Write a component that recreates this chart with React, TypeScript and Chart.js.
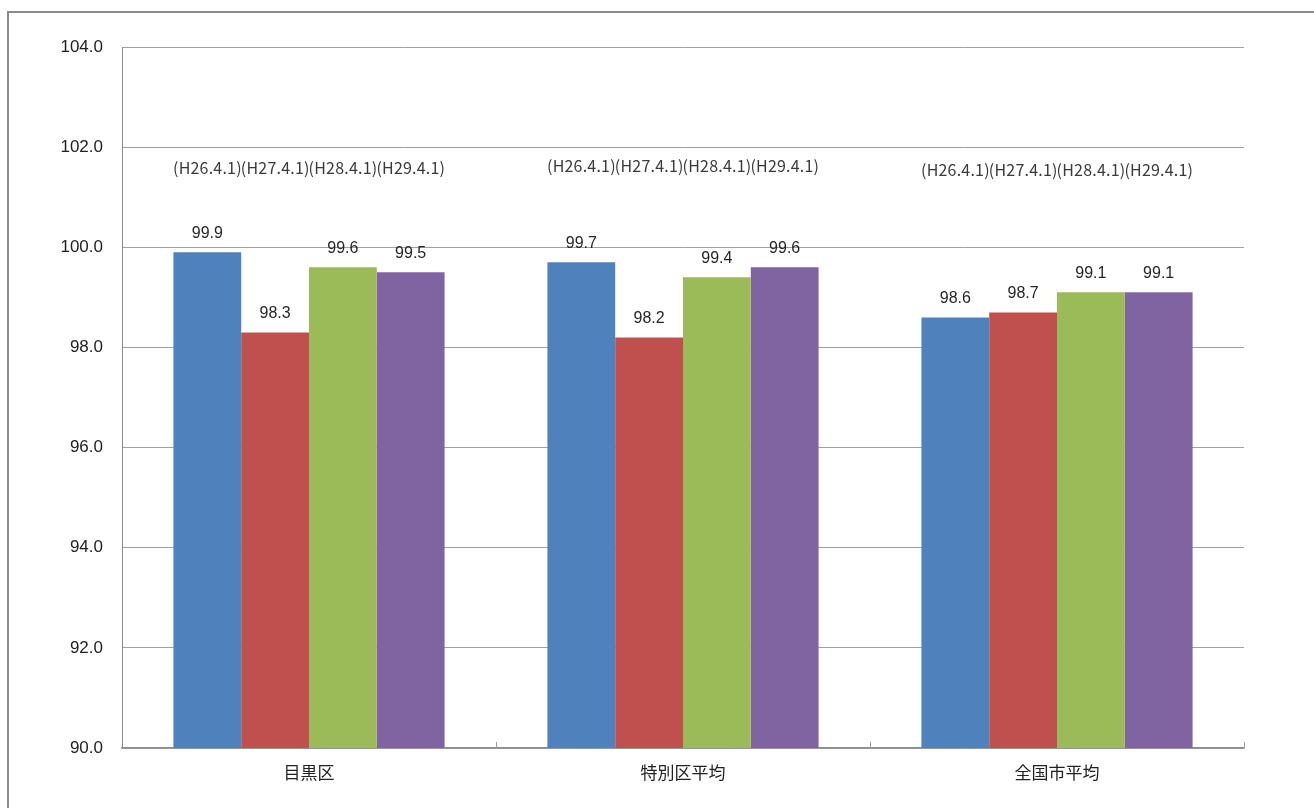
import React, { useEffect, useRef } from "react";
import { Chart, registerables } from "chart.js";

Chart.register(...registerables);

const categories = ["目黒区", "特別区平均", "全国市平均"];
const seriesNames = ["H26.4.1", "H27.4.1", "H28.4.1", "H29.4.1"];
const dateLabels = ["(H26.4.1)", "(H27.4.1)", "(H28.4.1)", "(H29.4.1)"];
const h26 = [99.9, 99.7, 98.6];
const h27 = [98.3, 98.2, 98.7];
const h28 = [99.6, 99.4, 99.1];
const h29 = [99.5, 99.6, 99.1];
const dateLabelLevels = [101.58, 101.62, 101.54];
const colors = ["#4F81BD", "#C0504D", "#9BBB59", "#8064A2"];
const yMin = 90;
const yMax = 104;
const yStep = 2;

const overlayPlugin = {
  id: "overlay",
  afterDraw(chart: any) {
    const ctx = chart.ctx;
    const area = chart.chartArea;
    const yScale = chart.scales.y;
    ctx.save();
    // outer frame
    ctx.strokeStyle = "#8c8c8c";
    ctx.lineWidth = 2;
    ctx.beginPath();
    ctx.moveTo(8, chart.height);
    ctx.lineTo(8, 12);
    ctx.lineTo(chart.width, 12);
    ctx.stroke();
    // category boundary ticks (inward)
    ctx.strokeStyle = "#9a9a9a";
    ctx.lineWidth = 1;
    const n = categories.length;
    const w = (area.right - area.left) / n;
    for (let i = 1; i <= n; i++) {
      const x = Math.round(area.left + w * i) + 0.5;
      ctx.beginPath();
      ctx.moveTo(x, area.bottom);
      ctx.lineTo(x, area.bottom - 6);
      ctx.stroke();
    }
    // value labels
    ctx.fillStyle = "#262626";
    ctx.font = "16px 'Liberation Sans'";
    ctx.textAlign = "center";
    ctx.textBaseline = "middle";
    chart.data.datasets.forEach((ds: any, di: number) => {
      const meta = chart.getDatasetMeta(di);
      meta.data.forEach((bar: any, i: number) => {
        ctx.fillText(ds.data[i].toFixed(1), bar.x, bar.y - 19);
      });
    });
    // date labels above groups
    ctx.fillStyle = "#3a3a3a";
    ctx.font = "16px 'Noto Sans CJK JP'";
    chart.data.datasets.forEach((ds: any, di: number) => {
      const meta = chart.getDatasetMeta(di);
      meta.data.forEach((bar: any, i: number) => {
        const y = yScale.getPixelForValue(dateLabelLevels[i]);
        const text = dateLabels[di];
        ctx.letterSpacing = "0px";
        const measured = ctx.measureText(text).width;
        const target = bar.width + 1;
        const sp = Math.max(0, (target - measured) / text.length);
        ctx.letterSpacing = sp.toFixed(2) + "px";
        ctx.fillText(text, bar.x + sp / 2, y, target + sp);
      });
    });
    ctx.letterSpacing = "0px";
    ctx.restore();
  },
};

export default function App() {
  const ref = useRef<HTMLCanvasElement>(null);
  useEffect(() => {
    if (!ref.current) return;
    const data = [h26, h27, h28, h29];
    const chart = new Chart(ref.current, {
      type: "bar",
      data: {
        labels: categories,
        datasets: data.map((d, i) => ({
          label: seriesNames[i],
          data: d,
          backgroundColor: colors[i],
          borderWidth: 0,
          categoryPercentage: 0.725,
          barPercentage: 1,
        })),
      },
      options: {
        responsive: false,
        animation: false,
        devicePixelRatio: 1,
        layout: { padding: { top: 47, right: 70, left: 0, bottom: 0 } },
        plugins: {
          legend: { display: false },
          tooltip: { enabled: false },
        },
        scales: {
          x: {
            grid: { display: false, drawTicks: false },
            border: { display: true, color: "#8c8c8c", width: 1.5 },
            ticks: {
              color: "#222222",
              font: { family: "'Noto Sans CJK JP'", size: 17 },
              padding: 14,
            },
            afterFit: (s: any) => {
              s.height = 60;
            },
          },
          y: {
            min: yMin,
            max: yMax,
            ticks: {
              stepSize: yStep,
              color: "#222222",
              font: { family: "'Liberation Sans'", size: 17 },
              padding: 19,
              callback: (v: any) => Number(v).toFixed(1),
            },
            grid: { color: "#a0a0a0", drawTicks: false, lineWidth: 1 },
            border: { display: true, color: "#8c8c8c", width: 1 },
            afterFit: (s: any) => {
              s.width = 122;
            },
          },
        },
      },
      plugins: [overlayPlugin],
    });
    return () => chart.destroy();
  }, []);
  return (
    <div style={{ position: "absolute", left: 0, top: 0, width: 1314, height: 808, background: "#fff" }}>
      <canvas ref={ref} width={1314} height={808} style={{ width: 1314, height: 808 }} />
    </div>
  );
}
